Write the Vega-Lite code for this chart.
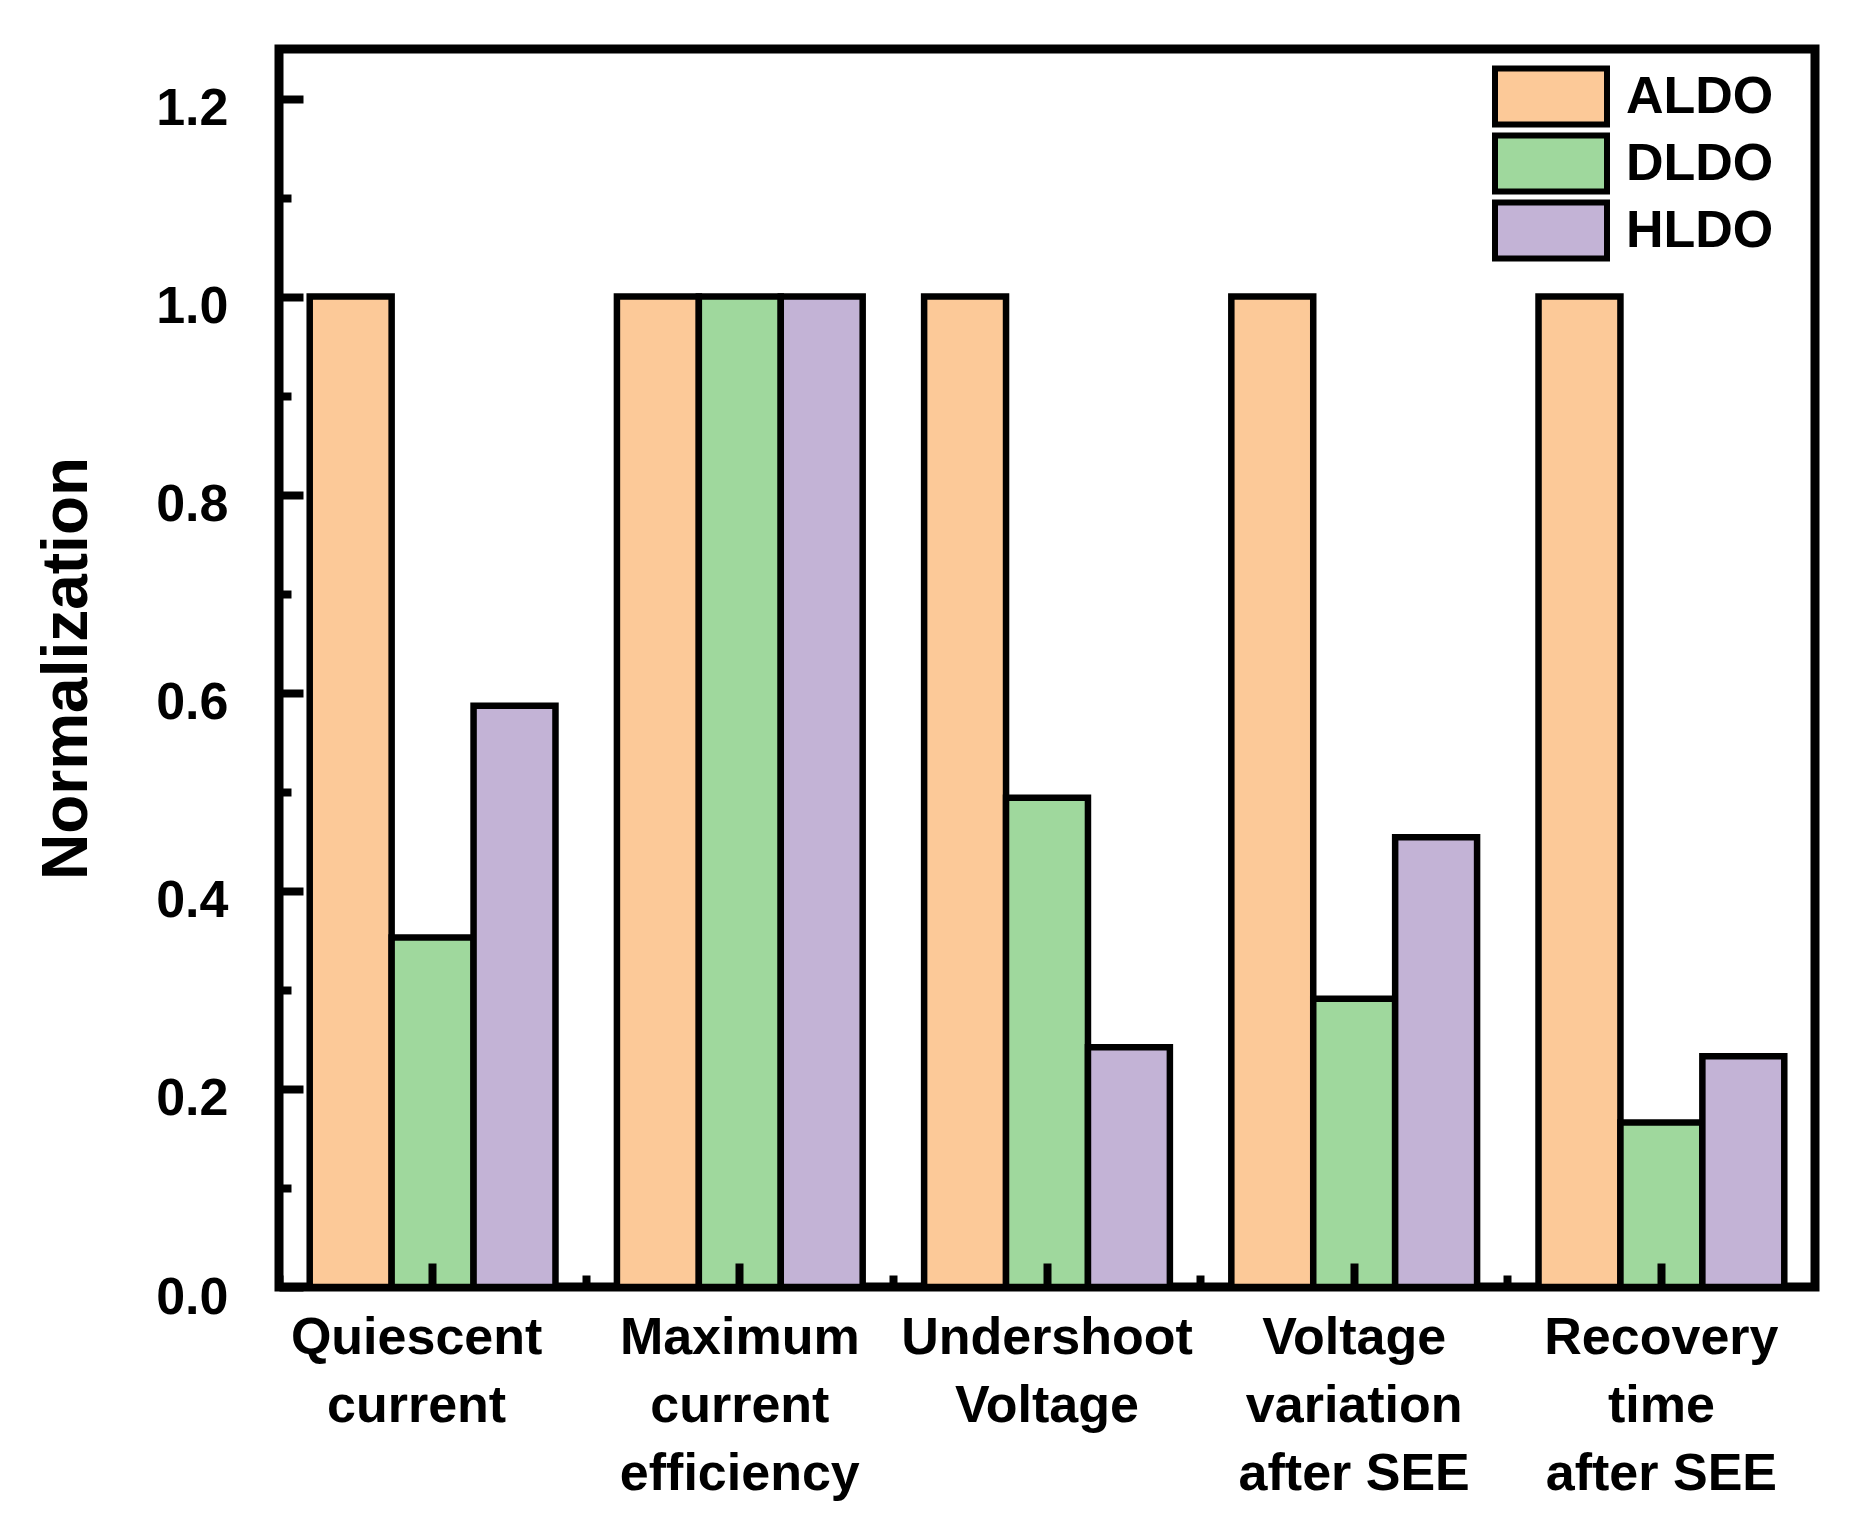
{
  "$schema": "https://vega.github.io/schema/vega-lite/v6.json",
  "width": 1536,
  "height": 1238,
  "autosize": "none",
  "padding": {"left": 279, "top": 49, "right": 53, "bottom": 253},
  "background": "white",
  "config": {
    "view": {"stroke": "black", "strokeWidth": 9},
    "font": "Liberation Sans",
    "axis": {"labelFont": "Liberation Sans", "titleFont": "Liberation Sans", "labelColor": "black", "titleColor": "black"},
    "legend": {"labelFont": "Liberation Sans"}
  },
  "data": {
    "values": [
      {"category": "Quiescent|current", "series": "ALDO", "value": 1.0},
      {"category": "Quiescent|current", "series": "DLDO", "value": 0.353},
      {"category": "Quiescent|current", "series": "HLDO", "value": 0.587},
      {"category": "Maximum|current|efficiency", "series": "ALDO", "value": 1.0},
      {"category": "Maximum|current|efficiency", "series": "DLDO", "value": 1.0},
      {"category": "Maximum|current|efficiency", "series": "HLDO", "value": 1.0},
      {"category": "Undershoot|Voltage", "series": "ALDO", "value": 1.0},
      {"category": "Undershoot|Voltage", "series": "DLDO", "value": 0.494},
      {"category": "Undershoot|Voltage", "series": "HLDO", "value": 0.242},
      {"category": "Voltage|variation|after SEE", "series": "ALDO", "value": 1.0},
      {"category": "Voltage|variation|after SEE", "series": "DLDO", "value": 0.291},
      {"category": "Voltage|variation|after SEE", "series": "HLDO", "value": 0.454},
      {"category": "Recovery|time|after SEE", "series": "ALDO", "value": 1.0},
      {"category": "Recovery|time|after SEE", "series": "DLDO", "value": 0.166},
      {"category": "Recovery|time|after SEE", "series": "HLDO", "value": 0.233}
    ]
  },
  "resolve": {"axis": {"x": "independent", "y": "independent"}},
  "layer": [
    {
      "mark": {"type": "bar", "stroke": "black", "strokeWidth": 6.5, "opacity": 1},
      "encoding": {
        "x": {
          "field": "category",
          "type": "nominal",
          "sort": null,
          "scale": {"type": "band", "paddingInner": 0, "paddingOuter": 0},
          "axis": {
            "orient": "bottom",
            "title": null,
            "bandPosition": 0.5,
            "domain": false,
            "tickSize": -24,
            "tickWidth": 8,
            "tickColor": "black",
            "labelExpr": "split(datum.label, '|')",
            "labelAngle": 0,
            "labelLimit": 0,
            "labelOverlap": false,
            "labelFontSize": 52,
            "labelFontWeight": "bold",
            "labelLineHeight": 68,
            "labelBaseline": "top",
            "labelPadding": 49,
            "labelOffset": {"condition": {"test": "datum.value == 'Quiescent|current'", "value": -16}, "value": 0},
            "zindex": 1
          }
        },
        "xOffset": {
          "field": "series",
          "type": "nominal",
          "sort": ["ALDO", "DLDO", "HLDO"],
          "scale": {"paddingInner": 0, "paddingOuter": 0.375}
        },
        "y": {
          "field": "value",
          "type": "quantitative",
          "scale": {"domain": [0, 1.25], "nice": false, "zero": true},
          "axis": {
            "orient": "left",
            "values": [0, 0.2, 0.4, 0.6, 0.8, 1.0, 1.2],
            "format": ".1f",
            "grid": false,
            "domain": false,
            "tickSize": -24,
            "tickWidth": 8,
            "tickColor": "black",
            "labelFontSize": 52,
            "labelFontWeight": "bold",
            "labelPadding": 75,
            "labelOffset": 10,
            "title": "Normalization",
            "titleFontSize": 64,
            "titleFontWeight": "bold",
            "titlePadding": 56,
            "zindex": 1
          }
        },
        "color": {
          "field": "series",
          "type": "nominal",
          "scale": {"domain": ["ALDO", "DLDO", "HLDO"], "range": ["#FCC998", "#9FD89D", "#C3B3D6"]},
          "legend": {
            "orient": "none",
            "legendX": 1213,
            "legendY": 14,
            "padding": 0,
            "title": null,
            "symbolType": "M-1,-0.5H1V0.5H-1Z",
            "symbolSize": 12544,
            "symbolStrokeColor": "black",
            "symbolStrokeWidth": 6,
            "symbolOpacity": 1,
            "clipHeight": 67,
            "labelFontSize": 52,
            "labelFontWeight": "bold",
            "labelColor": "black",
            "labelOffset": 16,
            "rowPadding": 0
          }
        }
      }
    },
    {
      "mark": {"type": "bar", "opacity": 0},
      "encoding": {
        "x": {
          "field": "category",
          "type": "nominal",
          "sort": null,
          "axis": {
            "orient": "bottom",
            "title": null,
            "bandPosition": 0,
            "domain": false,
            "labels": false,
            "tickSize": -12,
            "tickWidth": 8,
            "tickColor": "black",
            "zindex": 1
          }
        },
        "y": {
          "field": "value",
          "type": "quantitative",
          "axis": {
            "orient": "left",
            "values": [0.1, 0.3, 0.5, 0.7, 0.9, 1.1],
            "grid": false,
            "domain": false,
            "labels": false,
            "tickSize": -12,
            "tickWidth": 8,
            "tickColor": "black",
            "title": null,
            "zindex": 1
          }
        }
      }
    }
  ]
}
